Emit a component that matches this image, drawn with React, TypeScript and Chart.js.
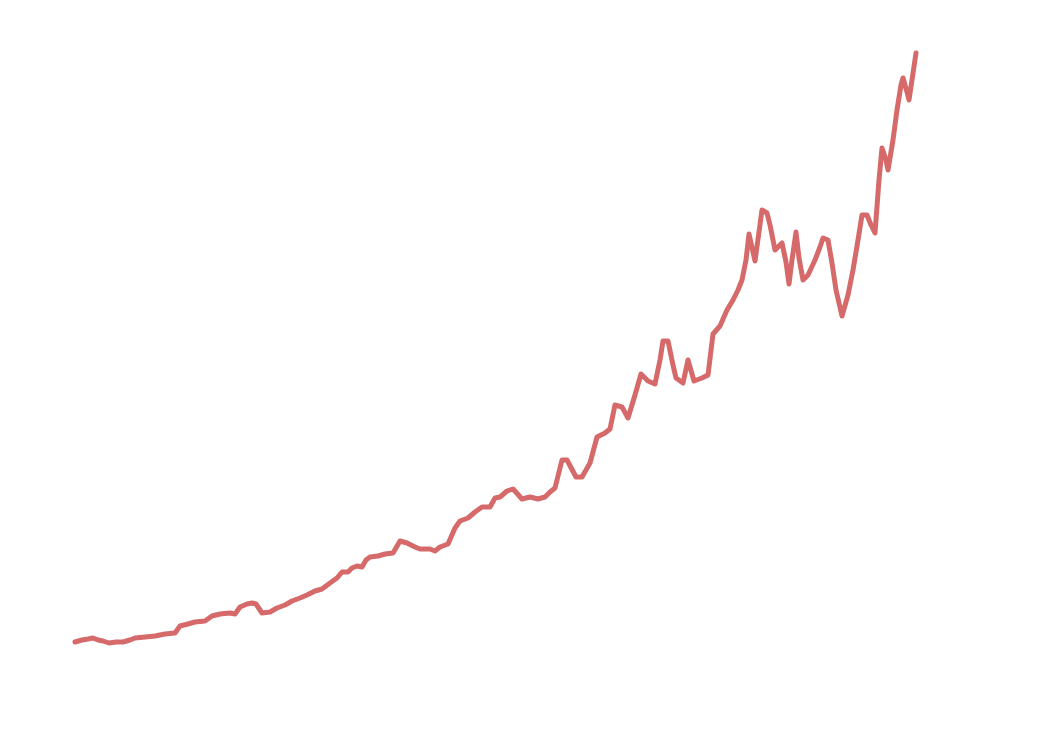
import { useEffect, useRef } from "react";
import { Chart, registerables } from "chart.js";

Chart.register(...registerables);

const years: number[] = [
  1936.0, 1936.7, 1937.3, 1937.8, 1938.3, 1938.8, 1939.4, 1940.1, 1940.8, 1941.5,
  1942.0, 1943.0, 1944.0, 1945.0, 1946.0, 1946.5, 1947.3, 1948.0, 1949.0, 1949.7,
  1950.5, 1951.5, 1952.0, 1952.5, 1953.2, 1953.7, 1954.1, 1954.7, 1955.5, 1956.2,
  1957.0, 1957.7, 1958.5, 1959.2, 1960.0, 1960.7, 1961.5, 1962.2, 1962.7, 1963.3,
  1963.7, 1964.2, 1964.7, 1965.1, 1965.5, 1966.3, 1967.0, 1967.8, 1968.5, 1969.2,
  1970.0, 1970.5, 1971.5, 1972.0, 1972.5, 1973.3, 1974.0, 1974.5, 1975.3, 1976.0,
  1976.7, 1977.5, 1978.0, 1978.5, 1979.2, 1979.8, 1980.7, 1981.5, 1982.3, 1983.0,
  1983.5, 1984.0, 1984.7, 1985.2, 1986.1, 1986.7, 1987.5, 1988.2, 1989.0, 1989.5,
  1990.0, 1990.7, 1991.3, 1992.0, 1992.6, 1993.3, 1994.0, 1994.5, 1994.8, 1995.3,
  1995.8, 1996.1, 1996.8, 1997.3, 1997.9, 1998.7, 1999.3, 1999.8, 2000.5, 2001.2,
  2001.8, 2002.3, 2002.7, 2003.1, 2003.4, 2004.0, 2004.4, 2004.7, 2005.2, 2005.5,
  2006.0, 2006.3, 2006.7, 2007.1, 2007.4, 2007.7, 2008.1, 2008.4, 2008.8, 2009.3,
  2010.0, 2010.5, 2010.8, 2011.3, 2011.7, 2012.1, 2012.7, 2013.3, 2013.8, 2014.3,
  2014.7, 2015.2, 2015.6, 2016.0, 2016.4, 2016.7, 2017.1, 2017.3, 2017.8, 2018.2,
  2018.6, 2018.8, 2019.2, 2019.4, 2019.7, 2020.1,
];

const values: number[] = [
  29, 30, 30.5, 31, 30, 29.5, 28.5, 29, 29, 30,
  31, 31.5, 32, 33, 33.5, 37, 38, 39, 39.5, 42,
  43, 43.5, 43, 46.5, 48, 48.5, 48, 43.5, 44, 46,
  47.5, 49.5, 51, 52.5, 54.5, 55.5, 58.5, 61, 64, 64,
  66, 67, 66.5, 70, 71.5, 72, 73, 73.5, 79.5, 78.5,
  76.5, 75.5, 75.5, 74.5, 76.5, 78, 86, 89.5, 91, 94,
  96.5, 96.5, 101, 101.5, 104.5, 105.5, 100.5, 101.5, 100.5, 101.5,
  104, 106, 120, 120, 111.5, 111.5, 118.5, 131.5, 133.5, 135.5,
  147.5, 146.5, 141, 152.5, 163, 159.5, 158, 170, 179.5, 179.5,
  167.5, 161, 158.5, 170, 159.5, 161, 162.5, 183, 187, 195,
  200, 205, 210, 220, 233, 219.5, 234, 245, 243.5, 237.5,
  225, 226.5, 228.5, 219, 208, 220, 234, 221, 210, 212.5,
  220, 226.5, 231, 230, 218.5, 205, 192, 202.5, 215, 230,
  242.5, 242.5, 237.5, 233.5, 260, 276, 270, 265, 280, 295,
  307.5, 311, 304, 300, 310, 323.5,
];

const X_MIN = 1929.3;
const X_MAX = 2033.5;
const Y_MIN = -12;
const Y_MAX = 346;

export default function App() {
  const canvasRef = useRef<HTMLCanvasElement | null>(null);

  useEffect(() => {
    if (!canvasRef.current) return;
    const points = years.map((x, i) => ({ x, y: values[i] }));
    const chart = new Chart(canvasRef.current, {
      type: "line",
      data: {
        datasets: [
          {
            data: points,
            borderColor: "#d66a6a",
            borderWidth: 5,
            pointRadius: 0,
            tension: 0,
            fill: false,
            borderJoinStyle: "round",
            borderCapStyle: "round",
          },
        ],
      },
      options: {
        animation: false,
        responsive: true,
        maintainAspectRatio: false,
        layout: { padding: 0 },
        plugins: { legend: { display: false }, tooltip: { enabled: false } },
        scales: {
          x: { type: "linear", display: false, min: X_MIN, max: X_MAX },
          y: { type: "linear", display: false, min: Y_MIN, max: Y_MAX },
        },
      },
    });
    return () => chart.destroy();
  }, []);

  return (
    <div style={{ width: 1042, height: 716, position: "relative" }}>
      <canvas ref={canvasRef} />
    </div>
  );
}
